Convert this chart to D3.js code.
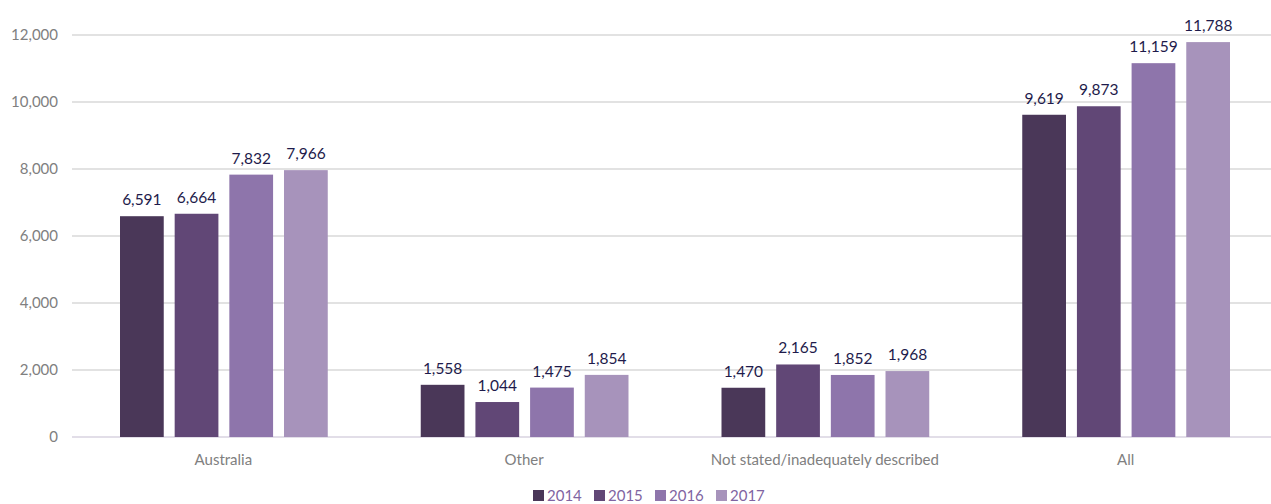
<!DOCTYPE html>
<html>
<head>
<meta charset="utf-8">
<script src="https://cdn.jsdelivr.net/npm/d3@7"></script>
<style>
  body { margin: 0; background: #fff; }
  svg { font-family: Lato, "Open Sans", sans-serif; }
</style>
</head>
<body>
<div id="chartArea"></div>
<script>
const categories = ["Australia", "Other", "Not stated/inadequately described", "All"];
const years = ["2014", "2015", "2016", "2017"];
const values2014 = [6591, 1558, 1470, 9619];
const values2015 = [6664, 1044, 2165, 9873];
const values2016 = [7832, 1475, 1852, 11159];
const values2017 = [7966, 1854, 1968, 11788];
const yTicks = [0, 2000, 4000, 6000, 8000, 10000, 12000];
const colors = ["#4a3758", "#614776", "#8e75ab", "#a793bb"];

const seriesValues = [values2014, values2015, values2016, values2017];
const data = [];
categories.forEach((c, i) => {
    years.forEach((yr, j) => data.push({ cat: c, year: yr, value: seriesValues[j][i], color: colors[j] }));
});

const width = 1271, height = 504;
const svg = d3.select("#chartArea").append("svg")
    .attr("width", width)
    .attr("height", height);

const x0 = d3.scaleBand().domain(categories).range([73, 1276]).paddingInner(0).paddingOuter(0);
const x1 = d3.scaleBand().domain(years).range([47, x0.bandwidth() - 46]).paddingInner(0.2).paddingOuter(0);
const y = d3.scaleLinear().domain([0, 12000]).range([437, 35]);

// gridlines
svg.append("g").selectAll("line")
    .data(yTicks)
    .enter().append("line")
    .attr("x1", 72).attr("x2", width)
    .attr("y1", d => y(d)).attr("y2", d => y(d))
    .style("stroke", d => d === 0 ? "#d9d3e0" : "#d9d9d9")
    .style("stroke-width", 1.3);

// y axis labels
const yAxis = svg.append("g")
    .attr("transform", "translate(58,0)")
    .call(d3.axisLeft(y).tickValues(yTicks).tickSize(0).tickPadding(0).tickFormat(d3.format(",")));
yAxis.select(".domain").remove();
yAxis.selectAll("text")
    .style("font-size", "15px")
    .style("fill", "#808080")
    .style("font-family", "Lato, 'Open Sans', sans-serif");

// bars
const groups = svg.append("g").selectAll("g")
    .data(data)
    .enter().append("g")
    .attr("transform", d => `translate(${x0(d.cat) + x1(d.year)},0)`);

groups.append("rect")
    .attr("x", 0)
    .attr("y", d => y(d.value))
    .attr("width", x1.bandwidth())
    .attr("height", d => y(0) - y(d.value))
    .style("fill", d => d.color);

groups.append("text")
    .attr("x", x1.bandwidth() / 2)
    .attr("y", d => y(d.value) - 11)
    .attr("text-anchor", "middle")
    .style("font-size", "15.5px")
    .style("fill", "#1e1b4b")
    .text(d => d3.format(",")(d.value));

// x axis labels
const xAxis = svg.append("g")
    .attr("transform", "translate(0,437)")
    .call(d3.axisBottom(x0).tickSize(0).tickPadding(17));
xAxis.select(".domain").remove();
xAxis.selectAll("text")
    .style("font-size", "15px")
    .style("fill", "#808080")
    .style("font-family", "Lato, 'Open Sans', sans-serif");

// legend
const legend = svg.append("g").attr("transform", "translate(533,490)");
const item = legend.selectAll("g")
    .data(years)
    .enter().append("g")
    .attr("transform", (d, i) => `translate(${i * 61},0)`);
item.append("rect")
    .attr("x", 0).attr("y", 0)
    .attr("width", 11).attr("height", 11)
    .style("fill", (d, i) => colors[i]);
item.append("text")
    .attr("x", 14).attr("y", 11)
    .style("font-size", "15px")
    .style("fill", "#8064a2")
    .text(d => d);
</script>
</body>
</html>
